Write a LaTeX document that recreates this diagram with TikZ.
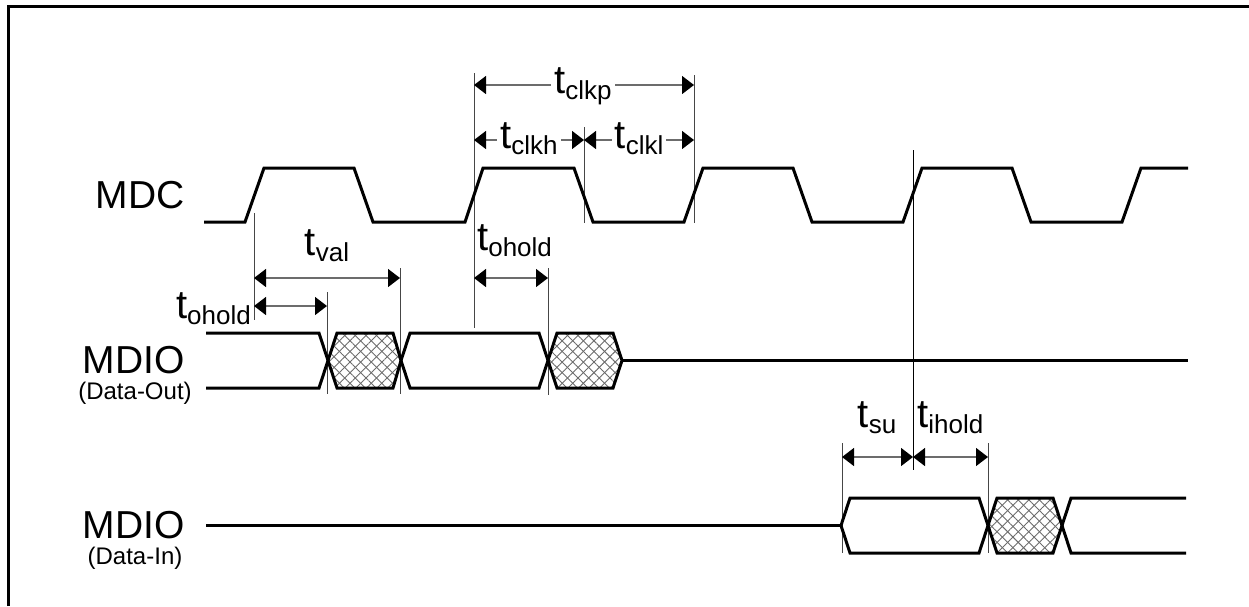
\documentclass[tikz,border=0pt]{standalone}
\usepackage{fontspec}
\setmainfont{Liberation Sans}
\usetikzlibrary{arrows.meta,patterns.meta}
\newcommand\tsub[1]{{\fontsize{40}{40}\selectfont t}\raisebox{-6pt}{\fontsize{26}{26}\selectfont #1}}
\tikzset{
  wave/.style={line width=3pt, line join=miter, black},
  ext/.style={line width=1pt, draw=gray!55!black},
  dim/.style={line width=1.4pt, draw=gray!85!black,
    {Triangle[length=12pt,width=18pt,color=black]}-{Triangle[length=12pt,width=18pt,color=black]}},
  tlab/.style={inner sep=0pt, anchor=base},
  wlab/.style={inner xsep=3pt, inner ysep=1pt, fill=white, anchor=base},
  sig/.style={inner sep=0pt, font=\fontsize{39}{39}\selectfont},
  sub/.style={inner sep=0pt, font=\fontsize{24}{24}\selectfont},
  hatchA/.style={pattern={Lines[angle=45,distance=7.5pt,line width=0.9pt]}, pattern color=gray!85!black},
  hatchB/.style={pattern={Lines[angle=-45,distance=7.5pt,line width=0.9pt]}, pattern color=gray!85!black}
}
\begin{document}
\begin{tikzpicture}[x=1pt,y=-1pt]
\useasboundingbox (0,0) rectangle (1249,606);
% frame
\draw[line width=3pt] (8.5,606) -- (8.5,6.5) -- (1249,6.5);

% signal names
\node[sig, anchor=base east] (mdc) at (185,208) {MDC};
\node[sig, anchor=base] (mdio1) at (133.5,373) {MDIO};
\node[sub, anchor=base] (dout) at (135,399) {(Data-Out)};
\node[sig, anchor=base] (mdio2) at (133.5,538) {MDIO};
\node[sub, anchor=base] (din) at (135,564) {(Data-In)};

% extension lines
\draw[ext] (254,213) -- (254,320);
\draw[ext] (327,292) -- (327,394);
\draw[ext] (400,268) -- (400,394);
\draw[ext] (474,73) -- (474,328);
\draw[ext] (548,268) -- (548,395);
\draw[ext] (584,127) -- (584,223);
\draw[ext] (694,75) -- (694,223);
\draw[line width=1pt, black] (913,150) -- (913,470);
\draw[ext] (842,443) -- (842,553);
\draw[ext] (988,443) -- (988,553);

% MDC clock
\draw[wave] (204,222) -- (245,222) -- (264,168) -- (354,168) -- (373,222)
  -- (465,222) -- (483,168) -- (574,168) -- (593,222)
  -- (684,222) -- (703,168) -- (793,168) -- (812,222)
  -- (903,222) -- (922,168) -- (1012,168) -- (1031,222)
  -- (1122,222) -- (1141,168) -- (1188,168);

% MDIO data-out
\fill[hatchA] (328,360.5) -- (337,333) -- (393,333) -- (401,360.5) -- (393,388) -- (337,388) -- cycle;
\fill[hatchB] (328,360.5) -- (337,333) -- (393,333) -- (401,360.5) -- (393,388) -- (337,388) -- cycle;
\fill[hatchA] (548,360.5) -- (557,333) -- (613,333) -- (622,360.5) -- (613,388) -- (557,388) -- cycle;
\fill[hatchB] (548,360.5) -- (557,333) -- (613,333) -- (622,360.5) -- (613,388) -- (557,388) -- cycle;
\draw[wave] (206,333) -- (319,333) -- (328,360.5) -- (319,388) -- (206,388);
\draw[wave] (328,360.5) -- (337,333) -- (393,333) -- (401,360.5) -- (393,388) -- (337,388) -- cycle;
\draw[wave] (401,360.5) -- (410,333) -- (539,333) -- (548,360.5) -- (539,388) -- (410,388) -- cycle;
\draw[wave] (548,360.5) -- (557,333) -- (613,333) -- (622,360.5) -- (613,388) -- (557,388) -- cycle;
\draw[wave] (622,360.5) -- (1188,360.5);

% MDIO data-in
\fill[hatchA] (988,525.5) -- (997,498) -- (1053,498) -- (1062,525.5) -- (1053,553) -- (997,553) -- cycle;
\fill[hatchB] (988,525.5) -- (997,498) -- (1053,498) -- (1062,525.5) -- (1053,553) -- (997,553) -- cycle;
\draw[wave] (206,525.5) -- (841,525.5);
\draw[wave] (841,525.5) -- (850,498) -- (979,498) -- (988,525.5) -- (979,553) -- (850,553) -- cycle;
\draw[wave] (988,525.5) -- (997,498) -- (1053,498) -- (1062,525.5) -- (1053,553) -- (997,553) -- cycle;
\draw[wave] (1186,498) -- (1071,498) -- (1062,525.5) -- (1071,553) -- (1186,553);

% dimension coordinates
\coordinate (p1) at (474,85);  \coordinate (p2) at (694,85);
\coordinate (h1) at (474,140); \coordinate (h2) at (584,140); \coordinate (h3) at (694,140);
\coordinate (v1) at (254,278); \coordinate (v2) at (400,278);
\coordinate (o1) at (254,306); \coordinate (o2) at (327,306);
\coordinate (m1) at (474,278); \coordinate (m2) at (548,278);
\coordinate (s1) at (842,457); \coordinate (s2) at (913,457); \coordinate (s3) at (988,457);

\draw[dim] (p1) -- (p2);
\draw[dim] (h1) -- (h2);
\draw[dim] (h2) -- (h3);
\draw[dim] (v1) -- (v2);
\draw[dim] (o1) -- (o2);
\draw[dim] (m1) -- (m2);
\draw[dim] (s1) -- (s2);
\draw[dim] (s2) -- (s3);

% labels
\node[wlab] (lclkp) at (583,93) {\tsub{clkp}};
\node[wlab] (lclkh) at (529,148) {\tsub{clkh}};
\node[wlab] (lclkl) at (639,148) {\tsub{clkl}};
\node[tlab] (lval) at (327,255) {\tsub{val}};
\node[tlab, anchor=base west] (lohm) at (477,250) {\tsub{ohold}};
\node[tlab, anchor=base east] (lohl) at (251,318) {\tsub{ohold}};
\node[tlab] (lsu) at (877,427) {\tsub{su}};
\node[tlab, anchor=base west] (lih) at (917,427) {\tsub{ihold}};
\end{tikzpicture}
\end{document}
